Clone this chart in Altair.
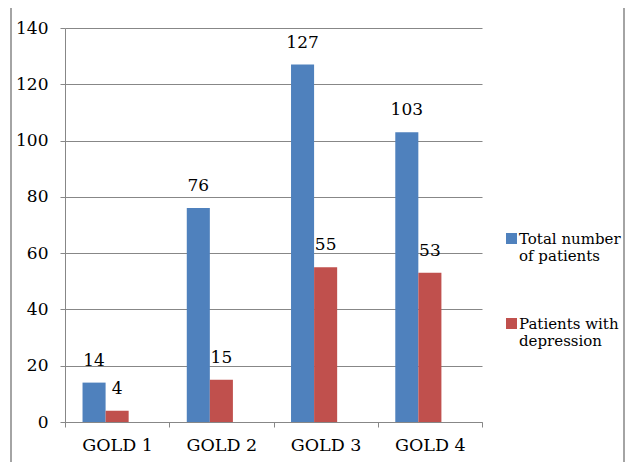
import altair as alt
import pandas as pd

categories = ["GOLD 1", "GOLD 2", "GOLD 3", "GOLD 4"]
series_names = ["Total number of patients", "Patients with depression"]
total_patients = [14, 76, 127, 103]
with_depression = [4, 15, 55, 53]
colors = ["#4F81BD", "#C0504D"]

rows = []
for c, t, d in zip(categories, total_patients, with_depression):
    rows.append({"group": c, "series": series_names[0], "value": t})
    rows.append({"group": c, "series": series_names[1], "value": d})
df = pd.DataFrame(rows)

FONT = "DejaVu Serif"
GRAY = "#878787"

x_enc = alt.X(
    "group:N",
    sort=categories,
    scale=alt.Scale(paddingInner=0, paddingOuter=0),
    axis=alt.Axis(
        title=None, labelAngle=0, tickBand="extent", tickSize=5, tickColor=GRAY,
        domainColor=GRAY, labelFont=FONT, labelFontSize=17.5, labelColor="#000",
        labelPadding=9, grid=False,
    ),
)
xoff = alt.XOffset(
    "series:N",
    scale=alt.Scale(domain=series_names + ["_empty"], paddingOuter=0.76, paddingInner=0),
)
y_enc = alt.Y(
    "value:Q",
    scale=alt.Scale(domain=[0, 140]),
    axis=alt.Axis(
        title=None, values=list(range(0, 141, 20)), tickSize=5, tickColor=GRAY,
        domainColor=GRAY, gridColor=GRAY, labelFont=FONT, labelFontSize=17,
        labelColor="#000", labelPadding=12,
    ),
)

bars = alt.Chart(df).mark_bar().encode(
    x=x_enc,
    xOffset=xoff,
    y=y_enc,
    color=alt.Color(
        "series:N",
        scale=alt.Scale(domain=series_names, range=colors),
        legend=alt.Legend(
            title=None, orient="none", legendX=439, legendY=203,
            symbolType="square", symbolSize=121, symbolStrokeWidth=0,
            labelFont=FONT, labelFontSize=15, labelColor="#000",
            labelBaseline="middle", rowPadding=52, labelOffset=0,
            labelLimit=300,
            labelExpr="datum.label == 'Total number of patients' ? ['Total number', 'of patients'] : ['Patients with', 'depression']",
        ),
    ),
)

labels = alt.Chart(df).mark_text(
    baseline="alphabetic", dy=-17, font=FONT, fontSize=17, color="#000"
).encode(
    x=alt.X("group:N", sort=categories),
    xOffset=xoff,
    y="value:Q",
    text="value:Q",
)

frame = alt.Chart(pd.DataFrame({"a": [0]})).mark_rect(
    fill=None, stroke=GRAY, strokeWidth=1.5
).encode(
    x=alt.value(-54), x2=alt.value(559), y=alt.value(-21), y2=alt.value(460)
)

chart = alt.layer(frame, bars, labels).properties(
    width=417, height=394,
    autosize=alt.AutoSizeParams(type="none"),
    padding={"left": 57, "top": 20, "right": 144, "bottom": 40},
).configure_view(stroke=None)

chart.save("out.html", embed_options={"renderer": "svg", "actions": False})
